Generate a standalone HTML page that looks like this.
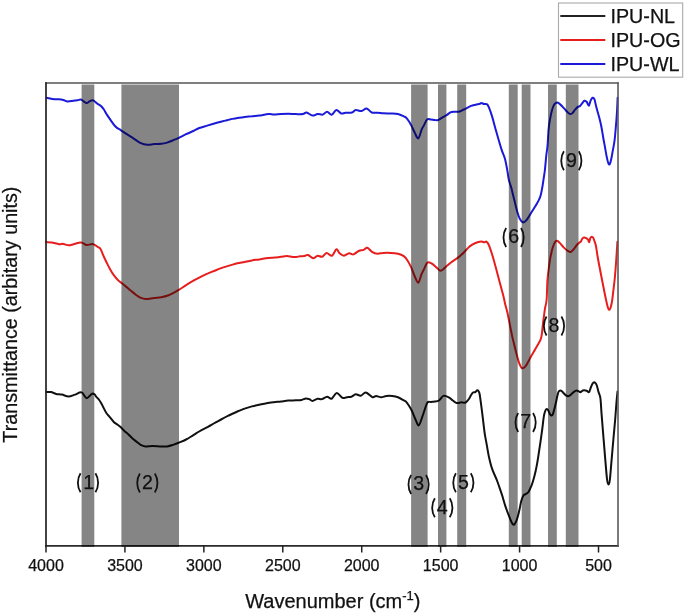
<!DOCTYPE html>
<html><head><meta charset="utf-8"><style>
html,body{margin:0;padding:0;background:#fff;}
body{width:685px;height:615px;overflow:hidden;}
svg{display:block;will-change:transform;}
text{font-family:"Liberation Sans",sans-serif;fill:#111;stroke:#111;stroke-width:0.25px;}
.tk{font-size:16px;}
.ax{font-size:20px;}
.an{font-size:19.6px;stroke:#111;stroke-width:0.25px;}
.pr{font-size:21px;}
.lg{font-size:19.7px;}
</style></head><body>
<svg width="685" height="615" viewBox="0 0 685 615">
<path d="M46.1,392.0 C46.9,392.0 49.3,391.8 51.0,392.1 C52.7,392.4 54.3,393.5 56.1,393.9 C57.9,394.3 59.8,394.2 61.9,394.6 C64.0,395.0 66.3,396.5 68.5,396.5 C70.7,396.5 72.8,395.3 75.0,394.6 C77.2,393.9 79.6,391.8 81.6,392.4 C83.5,393.0 85.0,397.9 86.7,398.2 C88.4,398.4 90.5,394.5 91.8,393.9 C93.1,393.2 93.8,393.8 94.5,394.3 C95.2,394.8 95.5,395.9 96.3,396.8 C97.1,397.8 98.3,398.8 99.2,400.0 C100.1,401.2 100.8,402.6 101.5,403.8 C102.2,405.0 102.5,405.7 103.3,407.3 C104.1,408.9 105.4,411.6 106.5,413.2 C107.6,414.8 108.6,415.6 109.8,417.1 C111.0,418.6 112.6,420.8 113.8,422.0 C115.0,423.2 116.0,423.6 117.1,424.4 C118.2,425.2 119.1,425.7 120.3,426.8 C121.5,427.9 123.0,429.6 124.4,430.9 C125.8,432.2 127.2,433.2 128.5,434.5 C129.8,435.8 131.2,437.2 132.5,438.4 C133.8,439.6 135.2,440.6 136.6,441.7 C138.0,442.8 139.2,444.1 140.7,444.9 C142.2,445.7 143.5,446.2 145.5,446.4 C147.5,446.6 150.1,446.1 152.5,446.1 C154.9,446.1 157.4,446.3 159.8,446.4 C162.2,446.4 164.9,446.6 167.1,446.4 C169.3,446.1 171.1,445.5 173.0,444.9 C174.9,444.3 176.6,443.6 178.8,442.7 C181.0,441.8 183.7,440.8 186.1,439.5 C188.5,438.2 191.2,436.4 193.4,435.1 C195.6,433.8 196.8,432.9 199.2,431.5 C201.6,430.1 205.3,428.3 208.0,426.8 C210.7,425.3 213.1,423.9 215.3,422.7 C217.5,421.5 218.9,420.7 221.1,419.5 C223.3,418.3 225.7,417.0 228.4,415.7 C231.1,414.4 234.6,412.7 237.3,411.5 C240.0,410.3 242.2,409.5 244.6,408.6 C247.0,407.8 249.5,407.0 251.9,406.4 C254.3,405.8 256.8,405.2 259.2,404.7 C261.6,404.2 264.1,403.6 266.5,403.2 C268.9,402.8 271.4,402.5 273.8,402.2 C276.2,401.9 278.7,401.8 281.1,401.5 C283.5,401.2 286.0,400.8 288.4,400.6 C290.8,400.4 293.5,400.4 295.7,400.3 C297.9,400.2 299.8,400.3 301.5,400.0 C303.2,399.7 304.5,398.5 305.9,398.4 C307.2,398.3 308.5,398.9 309.6,399.3 C310.7,399.7 311.2,401.1 312.5,401.0 C313.8,400.9 316.0,399.1 317.6,398.8 C319.2,398.5 320.4,399.5 322.0,399.1 C323.6,398.8 325.5,396.8 327.1,396.7 C328.7,396.6 330.0,399.3 331.6,398.7 C333.2,398.1 334.9,393.2 336.7,393.1 C338.5,393.0 340.8,397.2 342.5,397.9 C344.2,398.6 345.4,397.4 346.9,397.2 C348.4,397.0 349.8,397.3 351.3,396.8 C352.8,396.3 354.1,394.5 355.7,394.3 C357.3,394.1 359.1,396.0 360.8,395.7 C362.5,395.4 364.0,392.2 365.9,392.5 C367.8,392.8 370.7,396.6 372.4,397.2 C374.1,397.8 374.6,396.0 376.1,396.0 C377.6,396.0 379.5,397.2 381.2,397.2 C382.9,397.2 384.5,396.2 386.3,396.0 C388.1,395.8 390.2,395.8 392.2,396.0 C394.1,396.2 396.1,396.5 398.0,397.2 C399.9,397.9 402.3,399.5 403.8,400.4 C405.3,401.3 405.6,401.1 406.8,402.6 C408.0,404.1 409.7,406.5 411.1,409.3 C412.6,412.1 414.2,416.8 415.5,419.5 C416.8,422.2 417.6,425.8 418.7,425.4 C419.8,425.0 421.3,419.4 422.1,417.3 C422.9,415.2 422.7,415.4 423.6,413.0 C424.5,410.6 426.1,404.5 427.3,402.7 C428.5,400.9 429.7,402.2 430.9,402.0 C432.1,401.8 433.2,401.9 434.6,401.6 C436.0,401.4 437.5,401.4 439.0,400.5 C440.5,399.6 441.7,396.4 443.4,395.9 C445.1,395.4 447.6,396.8 449.2,397.6 C450.8,398.4 451.6,399.6 452.8,400.5 C454.0,401.4 455.0,402.7 456.5,403.0 C458.0,403.3 460.2,402.3 461.6,402.3 C463.0,402.3 463.8,402.9 464.6,402.8 C465.4,402.7 465.9,402.4 466.5,401.8 C467.1,401.2 467.7,400.6 468.5,399.5 C469.3,398.4 470.4,396.2 471.1,395.0 C471.9,393.8 472.3,393.0 473.0,392.5 C473.7,392.0 474.6,392.6 475.3,392.2 C476.0,391.8 476.6,390.5 477.2,390.3 C477.8,390.1 478.2,390.6 478.6,391.2 C479.0,391.8 479.3,392.5 479.6,394.0 C479.9,395.5 480.1,397.1 480.5,400.0 C480.9,402.9 481.5,407.6 482.0,411.4 C482.5,415.2 482.9,419.0 483.4,422.8 C483.9,426.6 484.2,430.4 484.8,434.2 C485.4,438.0 486.2,441.6 486.9,445.6 C487.6,449.6 488.3,454.1 489.2,458.0 C490.1,461.9 490.9,465.4 492.2,469.1 C493.5,472.9 495.7,477.1 497.0,480.5 C498.3,483.9 499.3,486.9 500.2,489.6 C501.1,492.3 501.7,493.8 502.5,496.5 C503.3,499.2 504.2,502.6 505.2,505.6 C506.2,508.6 507.2,511.6 508.5,514.7 C509.8,517.8 511.7,523.2 512.9,524.4 C514.1,525.6 514.9,523.7 515.8,522.1 C516.7,520.5 517.6,517.2 518.2,515.0 C518.8,512.8 519.1,511.3 519.6,509.0 C520.1,506.7 520.6,503.4 521.2,501.2 C521.8,498.9 522.6,496.7 523.4,495.5 C524.1,494.3 524.9,494.7 525.7,494.1 C526.6,493.5 527.5,493.4 528.5,492.0 C529.5,490.6 530.6,487.8 531.5,485.6 C532.4,483.4 533.0,481.3 533.7,478.8 C534.4,476.3 535.1,473.4 535.7,470.7 C536.3,468.0 536.8,465.2 537.3,462.5 C537.8,459.8 538.2,457.1 538.6,454.4 C539.0,451.7 539.4,449.0 539.8,446.3 C540.2,443.6 540.6,440.9 541.0,438.1 C541.4,435.3 541.8,432.5 542.2,429.5 C542.6,426.5 543.0,422.8 543.3,420.3 C543.6,417.8 543.9,416.0 544.2,414.4 C544.6,412.8 545.0,411.5 545.4,410.6 C545.8,409.7 546.3,409.1 546.8,409.1 C547.3,409.1 547.8,409.7 548.3,410.6 C548.8,411.5 549.6,413.6 550.1,414.4 C550.6,415.2 551.0,415.7 551.5,415.6 C552.0,415.5 552.5,415.0 553.0,413.8 C553.5,412.6 554.0,410.4 554.5,408.5 C555.0,406.6 555.4,404.7 555.9,402.7 C556.4,400.7 556.8,398.4 557.2,396.5 C557.7,394.6 558.1,392.6 558.6,391.6 C559.1,390.6 559.7,390.6 560.3,390.6 C560.9,390.6 561.6,391.1 562.2,391.6 C562.8,392.1 563.4,392.9 564.0,393.5 C564.6,394.1 565.3,394.9 566.0,395.4 C566.7,395.9 567.3,396.3 568.0,396.3 C568.7,396.3 569.3,395.8 570.0,395.4 C570.7,394.9 571.3,394.2 572.0,393.6 C572.7,393.0 573.5,392.1 574.2,391.6 C574.9,391.1 575.7,390.5 576.4,390.4 C577.1,390.3 577.7,390.9 578.4,391.2 C579.1,391.5 579.8,392.2 580.4,392.2 C581.0,392.2 581.5,391.3 582.0,391.0 C582.5,390.7 582.9,390.4 583.7,390.3 C584.5,390.2 585.7,390.4 586.6,390.7 C587.5,391.0 588.4,392.7 589.1,392.1 C589.8,391.5 590.4,388.4 591.0,387.0 C591.6,385.6 592.1,384.3 592.6,383.5 C593.1,382.7 593.7,382.3 594.2,382.3 C594.7,382.3 595.2,382.8 595.6,383.3 C596.0,383.8 596.3,384.1 596.8,385.5 C597.3,386.9 598.0,390.1 598.4,391.6 C598.8,393.1 599.0,393.3 599.4,394.5 C599.8,395.7 600.1,395.7 600.5,399.0 C600.9,402.3 601.1,407.9 601.6,414.4 C602.1,420.9 602.9,430.4 603.5,438.0 C604.1,445.6 604.7,453.0 605.3,459.8 C605.9,466.6 606.5,474.9 607.0,479.0 C607.5,483.1 607.9,484.3 608.4,484.4 C608.9,484.5 609.4,483.6 609.9,479.5 C610.4,475.4 611.0,466.7 611.6,459.8 C612.2,452.9 612.9,445.0 613.5,438.0 C614.1,431.0 614.8,424.4 615.3,418.0 C615.8,411.6 616.3,404.2 616.7,399.8 C617.1,395.4 617.4,393.0 617.5,391.6" fill="none" stroke="#111" stroke-width="2.00" stroke-linejoin="round" stroke-linecap="round"/>
<path d="M46.1,242.1 C47.0,242.2 49.6,242.1 51.7,242.4 C53.9,242.8 57.0,243.9 59.0,244.2 C61.0,244.4 61.8,243.7 63.4,243.9 C65.0,244.1 66.8,245.2 68.5,245.3 C70.2,245.4 71.5,244.7 73.6,244.2 C75.7,243.7 78.9,242.2 81.1,242.4 C83.3,242.6 84.8,244.8 86.6,245.1 C88.4,245.3 90.9,244.0 92.2,243.9 C93.5,243.8 93.2,244.1 94.2,244.6 C95.2,245.1 97.0,246.4 98.0,247.1 C99.0,247.8 99.5,247.4 100.4,248.8 C101.3,250.2 102.3,253.3 103.3,255.5 C104.3,257.7 105.4,260.0 106.5,262.2 C107.6,264.4 108.6,266.5 109.8,268.7 C111.0,270.9 112.4,273.3 113.8,275.2 C115.2,277.1 116.5,278.8 117.9,280.1 C119.3,281.5 120.7,282.2 122.0,283.3 C123.3,284.4 124.5,285.4 126.0,286.6 C127.5,287.8 129.3,289.4 130.9,290.7 C132.5,292.0 134.2,293.5 135.8,294.7 C137.4,295.9 139.1,297.1 140.7,297.8 C142.3,298.5 143.3,299.0 145.5,299.0 C147.7,299.0 151.4,298.3 154.0,298.0 C156.6,297.7 158.9,297.6 161.3,297.2 C163.7,296.8 166.4,296.1 168.6,295.3 C170.8,294.5 172.7,293.3 174.4,292.4 C176.1,291.5 176.9,291.1 178.8,289.9 C180.8,288.7 183.7,286.6 186.1,285.1 C188.5,283.6 191.0,282.1 193.4,280.7 C195.8,279.3 198.3,278.0 200.7,276.8 C203.1,275.6 205.6,274.4 208.0,273.4 C210.4,272.3 212.9,271.5 215.3,270.5 C217.7,269.5 220.2,268.5 222.6,267.6 C225.0,266.8 227.4,266.1 229.9,265.4 C232.4,264.7 234.9,263.9 237.3,263.3 C239.8,262.7 242.2,262.4 244.6,261.9 C247.0,261.4 249.5,260.8 251.9,260.4 C254.3,260.0 256.5,259.8 259.2,259.4 C261.9,259.0 265.3,258.2 268.0,257.9 C270.7,257.6 273.1,257.7 275.3,257.5 C277.5,257.3 279.2,257.1 281.1,256.8 C283.0,256.6 284.7,255.9 286.9,256.0 C289.1,256.1 292.0,257.1 294.2,257.1 C296.4,257.2 298.4,256.5 300.1,256.3 C301.8,256.1 303.2,256.2 304.5,256.0 C305.8,255.8 306.7,254.6 308.1,255.0 C309.6,255.4 311.6,258.1 313.2,258.2 C314.8,258.3 316.1,255.9 317.6,255.7 C319.1,255.5 320.5,257.2 322.0,256.8 C323.5,256.4 324.9,253.3 326.6,253.1 C328.3,252.9 330.4,256.3 332.0,255.7 C333.6,255.1 335.1,249.7 336.4,249.3 C337.7,248.9 338.3,252.1 339.6,253.2 C340.9,254.3 342.4,255.7 344.0,255.7 C345.6,255.7 347.5,253.4 349.1,253.2 C350.7,253.0 351.9,254.8 353.5,254.4 C355.1,254.0 356.9,251.8 358.6,251.0 C360.3,250.2 362.2,250.4 363.7,249.9 C365.1,249.4 365.9,247.4 367.3,247.8 C368.8,248.2 370.7,251.2 372.4,252.2 C374.1,253.2 375.8,253.6 377.6,253.7 C379.4,253.8 381.2,253.0 383.4,252.9 C385.6,252.8 388.3,252.8 390.7,252.9 C393.1,253.0 395.8,253.2 398.0,253.7 C400.2,254.2 402.2,255.0 403.8,256.1 C405.4,257.2 406.3,258.6 407.5,260.5 C408.7,262.4 409.9,264.5 411.1,267.2 C412.3,269.9 413.6,273.9 414.8,276.5 C416.0,279.1 417.2,283.2 418.3,282.8 C419.4,282.4 420.7,276.1 421.6,274.0 C422.5,271.9 422.7,271.9 423.6,270.0 C424.6,268.1 426.0,263.8 427.3,262.7 C428.6,261.6 430.2,262.8 431.7,263.5 C433.2,264.2 434.7,265.9 436.1,267.1 C437.6,268.3 438.9,270.7 440.4,270.8 C441.8,270.9 443.1,269.2 444.8,267.8 C446.5,266.4 448.5,264.4 450.7,262.7 C452.9,261.0 455.8,259.3 458.0,257.6 C460.2,255.9 461.9,254.4 463.8,252.5 C465.7,250.6 467.7,248.0 469.6,246.4 C471.6,244.8 473.6,243.8 475.5,243.0 C477.4,242.2 479.9,241.7 481.3,241.6 C482.8,241.5 483.4,242.3 484.2,242.3 C485.0,242.3 485.7,241.2 486.4,241.6 C487.1,242.0 487.8,242.7 488.6,244.5 C489.5,246.3 490.5,249.5 491.5,252.5 C492.5,255.5 493.2,258.1 494.5,262.7 C495.8,267.3 497.6,274.4 499.1,280.0 C500.6,285.6 502.4,292.1 503.4,296.0 C504.4,299.9 504.3,300.4 505.0,303.4 C505.7,306.4 506.8,309.8 507.7,314.0 C508.6,318.2 509.8,324.7 510.6,328.5 C511.4,332.3 511.7,334.1 512.3,336.9 C512.9,339.7 513.7,342.6 514.4,345.4 C515.1,348.2 515.8,351.1 516.5,353.8 C517.2,356.5 518.0,359.4 518.6,361.4 C519.2,363.4 519.7,364.7 520.3,365.8 C520.9,366.9 521.2,368.1 522.0,368.2 C522.8,368.3 524.2,367.7 525.2,366.6 C526.2,365.5 527.2,363.4 528.3,361.6 C529.3,359.8 530.3,357.7 531.5,355.6 C532.7,353.5 534.3,350.9 535.5,348.8 C536.7,346.7 537.8,344.8 538.7,343.2 C539.6,341.6 540.3,340.6 540.8,339.0 C541.3,337.4 541.5,336.2 541.9,333.8 C542.2,331.4 542.5,327.3 542.9,324.3 C543.2,321.3 543.6,318.5 544.0,315.8 C544.4,313.1 544.6,311.0 545.0,308.4 C545.4,305.8 546.2,304.6 546.6,300.0 C547.0,295.4 547.1,286.1 547.4,281.1 C547.7,276.1 548.1,273.6 548.6,269.8 C549.1,266.0 549.6,262.0 550.2,258.4 C550.9,254.8 551.7,250.8 552.5,248.2 C553.3,245.5 554.0,243.7 554.8,242.5 C555.5,241.3 556.1,240.7 557.0,240.8 C557.9,240.9 558.8,242.0 559.9,243.1 C561.0,244.2 562.7,246.4 563.9,247.6 C565.1,248.8 566.2,249.8 567.3,250.5 C568.4,251.2 569.7,252.2 570.7,252.0 C571.7,251.8 572.5,250.6 573.5,249.5 C574.5,248.4 575.5,246.6 576.4,245.5 C577.3,244.4 578.0,243.9 578.7,243.2 C579.5,242.5 580.3,242.2 580.9,241.5 C581.5,240.8 581.6,239.7 582.1,239.0 C582.6,238.3 583.4,237.6 584.1,237.5 C584.9,237.4 585.9,238.0 586.6,238.4 C587.3,238.8 587.7,239.2 588.1,239.8 C588.5,240.4 588.8,242.4 589.2,242.1 C589.6,241.8 589.9,239.0 590.3,238.1 C590.7,237.2 591.3,236.8 591.8,236.7 C592.3,236.6 592.7,237.0 593.2,237.8 C593.7,238.6 594.1,240.1 594.6,241.5 C595.1,242.9 595.5,243.6 596.0,246.1 C596.5,248.6 596.9,252.3 597.6,256.5 C598.3,260.7 599.5,266.7 600.4,271.5 C601.3,276.3 602.2,280.7 603.1,285.3 C604.0,289.9 605.1,295.6 605.9,299.1 C606.6,302.6 607.1,304.8 607.6,306.5 C608.1,308.2 608.4,309.4 608.9,309.6 C609.4,309.9 610.0,309.4 610.5,308.0 C611.0,306.6 611.5,304.2 612.0,301.5 C612.5,298.8 612.7,296.1 613.2,292.0 C613.7,287.9 614.4,282.5 614.9,277.0 C615.4,271.5 615.9,264.9 616.3,259.0 C616.7,253.1 617.2,244.7 617.4,241.8" fill="none" stroke="#e61e1e" stroke-width="2.00" stroke-linejoin="round" stroke-linecap="round"/>
<path d="M46.6,97.8 C47.9,98.0 52.5,99.0 54.6,99.2 C56.7,99.4 57.5,99.1 59.0,99.2 C60.5,99.3 61.9,99.6 63.4,100.0 C64.8,100.4 66.0,101.4 67.7,101.5 C69.4,101.6 71.8,101.0 73.5,100.8 C75.2,100.6 76.4,100.4 77.6,100.2 C78.8,100.0 79.7,99.3 80.8,99.5 C81.9,99.7 83.0,101.0 84.0,101.6 C85.0,102.2 85.6,103.2 86.6,103.1 C87.6,103.0 88.9,101.6 89.9,101.1 C90.9,100.6 91.8,100.3 92.6,100.3 C93.4,100.3 93.7,100.6 94.5,101.2 C95.3,101.8 96.3,102.9 97.4,103.7 C98.5,104.5 99.9,105.0 101.0,106.0 C102.1,107.0 102.8,107.9 103.9,109.5 C105.0,111.1 105.5,112.6 107.4,115.4 C109.3,118.2 112.9,123.8 115.2,126.3 C117.5,128.8 118.9,128.9 121.0,130.3 C123.1,131.7 125.5,133.3 127.6,134.6 C129.7,135.9 131.2,136.9 133.4,138.3 C135.6,139.7 138.5,142.1 140.8,143.2 C143.1,144.3 145.2,144.7 147.4,144.8 C149.6,145.0 151.7,144.3 154.0,144.1 C156.3,143.9 159.1,144.1 161.3,143.8 C163.5,143.6 165.2,143.2 167.1,142.6 C169.0,142.0 171.1,141.1 173.0,140.3 C174.9,139.5 176.6,138.8 178.8,137.8 C181.0,136.8 183.7,135.3 186.1,134.2 C188.5,133.1 191.2,132.0 193.4,131.0 C195.6,130.0 196.8,128.9 199.2,128.0 C201.6,127.1 205.1,126.3 208.0,125.4 C210.9,124.5 213.9,123.6 216.8,122.8 C219.7,122.0 223.3,121.2 225.5,120.6 C227.7,120.0 228.0,119.9 230.0,119.4 C232.0,119.0 234.9,118.3 237.3,117.9 C239.7,117.5 242.2,117.4 244.6,117.1 C247.0,116.8 249.5,116.5 251.9,116.3 C254.3,116.0 256.4,116.0 259.2,115.6 C262.0,115.2 266.3,114.3 268.7,114.1 C271.1,113.9 271.7,114.6 273.8,114.6 C275.9,114.6 278.7,114.1 281.1,114.0 C283.5,113.9 286.0,113.8 288.4,113.8 C290.8,113.8 293.3,114.1 295.7,114.1 C298.1,114.1 301.2,114.3 303.0,114.0 C304.8,113.7 305.0,112.2 306.6,112.5 C308.2,112.8 310.7,115.3 312.5,115.6 C314.3,115.8 315.9,114.2 317.6,114.0 C319.3,113.8 321.1,115.0 322.7,114.6 C324.3,114.2 325.6,111.7 327.1,111.7 C328.6,111.7 330.1,115.0 331.6,114.7 C333.2,114.4 334.8,110.1 336.4,109.9 C338.0,109.7 339.6,113.0 341.1,113.5 C342.6,114.0 343.6,113.0 345.4,112.8 C347.2,112.6 350.3,113.0 352.0,112.5 C353.7,112.0 354.1,110.2 355.7,110.0 C357.3,109.8 359.7,111.3 361.5,111.0 C363.3,110.7 364.9,108.2 366.6,108.4 C368.3,108.7 369.9,111.8 371.7,112.5 C373.5,113.2 375.7,112.7 377.6,112.8 C379.6,112.9 381.2,113.1 383.4,113.2 C385.6,113.3 388.3,113.4 390.7,113.5 C393.1,113.6 395.8,113.5 398.0,114.0 C400.2,114.5 402.3,115.7 403.8,116.4 C405.3,117.1 405.6,116.9 406.8,118.3 C408.0,119.7 409.8,122.6 411.1,125.0 C412.4,127.4 413.6,130.6 414.8,132.8 C416.0,135.0 417.2,138.9 418.3,138.4 C419.4,137.9 420.7,131.7 421.6,129.6 C422.5,127.5 422.7,127.6 423.6,125.9 C424.6,124.2 426.1,120.3 427.3,119.3 C428.5,118.2 429.7,119.5 430.9,119.6 C432.1,119.7 433.4,119.9 434.6,120.0 C435.8,120.1 436.7,120.5 438.2,120.0 C439.7,119.5 441.9,117.6 443.4,116.8 C444.9,116.0 445.7,115.7 447.0,114.9 C448.3,114.1 449.4,112.5 451.4,112.0 C453.3,111.5 456.6,112.1 458.7,111.7 C460.8,111.3 461.7,110.5 463.8,109.5 C465.9,108.5 469.2,106.7 471.1,105.9 C473.1,105.1 474.0,105.1 475.5,104.7 C477.0,104.3 478.9,104.0 479.9,103.7 C480.9,103.4 480.6,103.0 481.3,103.0 C482.0,103.0 483.2,103.8 484.2,104.0 C485.2,104.2 486.3,103.7 487.2,104.4 C488.1,105.1 488.4,106.3 489.3,108.4 C490.2,110.5 491.2,113.4 492.3,117.1 C493.4,120.8 494.4,125.0 495.9,130.3 C497.4,135.6 499.9,144.3 501.4,149.1 C502.9,153.9 504.0,155.2 505.0,158.9 C506.0,162.6 506.9,168.0 507.5,171.5 C508.1,175.0 508.2,177.2 508.9,180.0 C509.5,182.8 510.6,185.4 511.4,188.1 C512.1,190.8 512.7,193.6 513.4,196.3 C514.1,199.0 514.7,201.7 515.4,204.4 C516.1,207.1 516.8,210.1 517.5,212.5 C518.2,214.9 519.0,217.4 519.9,219.0 C520.8,220.6 521.8,222.0 522.8,222.3 C523.8,222.6 524.5,222.4 526.0,220.7 C527.5,219.0 529.9,214.8 531.5,212.3 C533.1,209.8 534.4,207.8 535.6,205.8 C536.8,203.8 537.9,202.0 538.8,200.1 C539.7,198.2 540.3,196.7 540.9,194.4 C541.5,192.1 542.0,189.0 542.5,186.3 C543.0,183.6 543.3,180.8 543.7,178.1 C544.1,175.4 544.5,173.6 544.9,170.0 C545.3,166.4 545.8,160.3 546.2,156.3 C546.6,152.3 547.1,150.5 547.5,146.0 C547.9,141.5 548.2,133.7 548.6,129.4 C549.0,125.2 549.3,123.3 549.8,120.5 C550.3,117.7 550.8,114.9 551.4,112.5 C552.0,110.1 552.7,107.6 553.4,106.1 C554.1,104.6 554.7,103.9 555.4,103.3 C556.1,102.7 556.6,102.3 557.4,102.4 C558.1,102.5 559.0,103.3 559.9,104.1 C560.8,104.8 561.7,105.8 562.7,106.9 C563.7,108.0 564.9,109.4 565.9,110.5 C566.9,111.6 567.9,112.7 568.7,113.3 C569.5,113.9 570.0,114.2 570.7,114.1 C571.4,114.0 572.0,113.6 572.7,112.9 C573.4,112.2 574.2,110.7 575.1,109.7 C576.0,108.7 577.1,107.5 577.9,106.9 C578.7,106.3 579.2,106.6 579.9,106.1 C580.6,105.6 581.1,104.6 581.9,103.7 C582.6,102.8 583.6,101.1 584.4,100.8 C585.2,100.5 586.1,101.2 586.8,102.0 C587.5,102.8 588.2,105.9 588.8,105.7 C589.4,105.5 590.0,101.9 590.6,100.6 C591.2,99.3 592.0,98.0 592.6,97.8 C593.2,97.6 593.8,97.9 594.4,99.2 C595.0,100.5 595.4,103.4 596.0,105.8 C596.6,108.2 597.4,111.1 598.1,113.6 C598.8,116.0 599.4,118.0 600.0,120.5 C600.6,123.0 601.2,125.6 601.7,128.5 C602.2,131.4 602.8,134.9 603.3,138.0 C603.8,141.1 604.4,143.9 605.0,147.2 C605.6,150.5 606.2,154.7 606.9,157.6 C607.5,160.5 608.2,163.8 608.9,164.4 C609.5,165.0 610.2,163.1 610.8,160.9 C611.4,158.7 612.1,154.7 612.7,151.1 C613.4,147.5 614.2,143.7 614.7,139.4 C615.2,135.1 615.6,129.4 616.0,125.1 C616.4,120.8 616.6,118.0 616.9,113.4 C617.2,108.9 617.5,100.4 617.6,97.8" fill="none" stroke="#1a1ad8" stroke-width="2.00" stroke-linejoin="round" stroke-linecap="round"/>
<line x1="45.2" y1="83" x2="618.8" y2="83" stroke="#555" stroke-width="1.6"/>
<line x1="45.2" y1="545.9" x2="618.8" y2="545.9" stroke="#2a2a2a" stroke-width="1.6"/>
<line x1="46" y1="82.2" x2="46" y2="546.7" stroke="#222" stroke-width="1.7"/>
<line x1="618" y1="82.2" x2="618" y2="546.7" stroke="#5a5a5a" stroke-width="1.6"/>
<rect x="81.6" y="84.5" width="12.7" height="462.5" fill="#000" fill-opacity="0.48"/>
<rect x="121.4" y="84.5" width="57.6" height="462.5" fill="#000" fill-opacity="0.48"/>
<rect x="411.1" y="84.5" width="16.5" height="462.5" fill="#000" fill-opacity="0.48"/>
<rect x="438.0" y="84.5" width="8.4" height="462.5" fill="#000" fill-opacity="0.48"/>
<rect x="457.2" y="84.5" width="9.0" height="462.5" fill="#000" fill-opacity="0.48"/>
<rect x="508.8" y="84.5" width="8.9" height="462.5" fill="#000" fill-opacity="0.48"/>
<rect x="521.7" y="84.5" width="8.8" height="462.5" fill="#000" fill-opacity="0.48"/>
<rect x="548.0" y="84.5" width="8.8" height="462.5" fill="#000" fill-opacity="0.48"/>
<rect x="565.8" y="84.5" width="12.7" height="462.5" fill="#000" fill-opacity="0.48"/>
<line x1="46.00" y1="545" x2="46.00" y2="552.5" stroke="#222" stroke-width="1.5"/>
<text x="46.00" y="570.5" text-anchor="middle" class="tk">4000</text>
<line x1="124.93" y1="545" x2="124.93" y2="552.5" stroke="#222" stroke-width="1.5"/>
<text x="124.93" y="570.5" text-anchor="middle" class="tk">3500</text>
<line x1="203.86" y1="545" x2="203.86" y2="552.5" stroke="#222" stroke-width="1.5"/>
<text x="203.86" y="570.5" text-anchor="middle" class="tk">3000</text>
<line x1="282.79" y1="545" x2="282.79" y2="552.5" stroke="#222" stroke-width="1.5"/>
<text x="282.79" y="570.5" text-anchor="middle" class="tk">2500</text>
<line x1="361.72" y1="545" x2="361.72" y2="552.5" stroke="#222" stroke-width="1.5"/>
<text x="361.72" y="570.5" text-anchor="middle" class="tk">2000</text>
<line x1="440.65" y1="545" x2="440.65" y2="552.5" stroke="#222" stroke-width="1.5"/>
<text x="440.65" y="570.5" text-anchor="middle" class="tk">1500</text>
<line x1="519.58" y1="545" x2="519.58" y2="552.5" stroke="#222" stroke-width="1.5"/>
<text x="519.58" y="570.5" text-anchor="middle" class="tk">1000</text>
<line x1="598.51" y1="545" x2="598.51" y2="552.5" stroke="#222" stroke-width="1.5"/>
<text x="598.51" y="570.5" text-anchor="middle" class="tk">500</text>
<text x="332.8" y="607.5" text-anchor="middle" class="ax">Wavenumber (cm<tspan dy="-8" font-size="13">-1</tspan><tspan dy="8">)</tspan></text>
<text transform="translate(16.9,314.6) rotate(-90)" text-anchor="middle" class="ax" style="font-size:19.75px">Transmittance (arbitary units)</text>
<text x="88.80" y="488.70" text-anchor="middle" class="an">1</text>
<path d="M80.55,473.30 C77.00,478.80 77.00,486.80 80.55,492.30" fill="none" stroke="#111" stroke-width="1.8"/>
<path d="M95.45,473.30 C99.00,478.80 99.00,486.80 95.45,492.30" fill="none" stroke="#111" stroke-width="1.8"/>
<text x="147.35" y="489.00" text-anchor="middle" class="an">2</text>
<path d="M139.90,473.60 C136.35,479.10 136.35,487.10 139.90,492.60" fill="none" stroke="#111" stroke-width="1.8"/>
<path d="M154.80,473.60 C158.35,479.10 158.35,487.10 154.80,492.60" fill="none" stroke="#111" stroke-width="1.8"/>
<text x="418.60" y="490.30" text-anchor="middle" class="an">3</text>
<path d="M411.15,474.90 C407.60,480.40 407.60,488.40 411.15,493.90" fill="none" stroke="#111" stroke-width="1.8"/>
<path d="M426.05,474.90 C429.60,480.40 429.60,488.40 426.05,493.90" fill="none" stroke="#111" stroke-width="1.8"/>
<text x="442.30" y="513.70" text-anchor="middle" class="an">4</text>
<path d="M434.85,498.30 C431.30,503.80 431.30,511.80 434.85,517.30" fill="none" stroke="#111" stroke-width="1.8"/>
<path d="M449.75,498.30 C453.30,503.80 453.30,511.80 449.75,517.30" fill="none" stroke="#111" stroke-width="1.8"/>
<text x="463.35" y="488.70" text-anchor="middle" class="an">5</text>
<path d="M455.90,473.30 C452.35,478.80 452.35,486.80 455.90,492.30" fill="none" stroke="#111" stroke-width="1.8"/>
<path d="M470.80,473.30 C474.35,478.80 474.35,486.80 470.80,492.30" fill="none" stroke="#111" stroke-width="1.8"/>
<text x="513.60" y="243.40" text-anchor="middle" class="an">6</text>
<path d="M506.15,228.00 C502.60,233.50 502.60,241.50 506.15,247.00" fill="none" stroke="#111" stroke-width="1.8"/>
<path d="M521.05,228.00 C524.60,233.50 524.60,241.50 521.05,247.00" fill="none" stroke="#111" stroke-width="1.8"/>
<text x="525.60" y="428.30" text-anchor="middle" class="an">7</text>
<path d="M518.15,412.90 C514.60,418.40 514.60,426.40 518.15,431.90" fill="none" stroke="#111" stroke-width="1.8"/>
<path d="M533.05,412.90 C536.60,418.40 536.60,426.40 533.05,431.90" fill="none" stroke="#111" stroke-width="1.8"/>
<text x="554.00" y="331.80" text-anchor="middle" class="an">8</text>
<path d="M546.55,316.40 C543.00,321.90 543.00,329.90 546.55,335.40" fill="none" stroke="#111" stroke-width="1.8"/>
<path d="M561.45,316.40 C565.00,321.90 565.00,329.90 561.45,335.40" fill="none" stroke="#111" stroke-width="1.8"/>
<text x="571.35" y="166.70" text-anchor="middle" class="an">9</text>
<path d="M563.90,151.30 C560.35,156.80 560.35,164.80 563.90,170.30" fill="none" stroke="#111" stroke-width="1.8"/>
<path d="M578.80,151.30 C582.35,156.80 582.35,164.80 578.80,170.30" fill="none" stroke="#111" stroke-width="1.8"/>
<rect x="558.5" y="3" width="124.2" height="74.2" fill="#fff" stroke="#aaa" stroke-width="1.1"/>
<line x1="560.3" y1="16.1" x2="605.3" y2="16.1" stroke="#222" stroke-width="2"/>
<text x="610.5" y="22.7" class="lg">IPU-NL</text>
<line x1="560.3" y1="40.1" x2="605.3" y2="40.1" stroke="#e61e1e" stroke-width="2"/>
<text x="610.5" y="46.7" class="lg">IPU-OG</text>
<line x1="560.3" y1="64.1" x2="605.3" y2="64.1" stroke="#1a1ad8" stroke-width="2"/>
<text x="610.5" y="70.7" class="lg">IPU-WL</text>
</svg>
</body></html>
